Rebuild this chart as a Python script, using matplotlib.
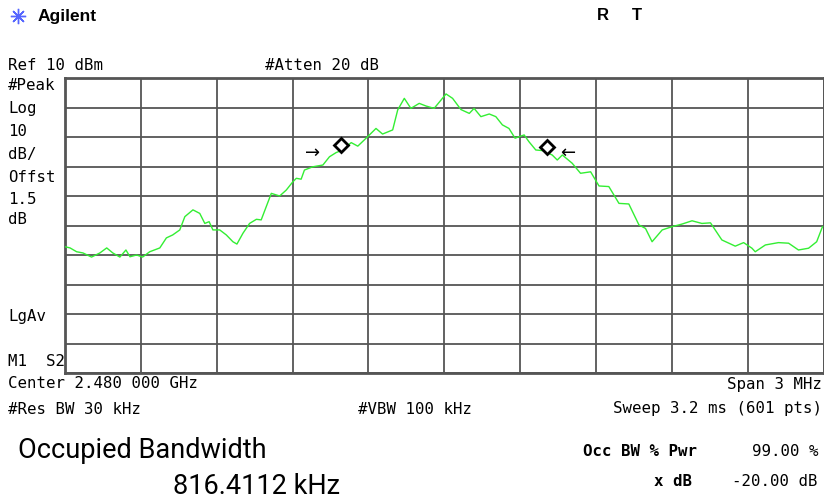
import numpy as np
import matplotlib.pyplot as plt
from matplotlib.lines import Line2D

# trace: offset from 2.480 GHz centre (MHz), level (dBm)
freq_mhz = [-1.500, -1.480, -1.454, -1.429, -1.395, -1.362, -1.335, -1.311, -1.283, -1.259,
            -1.243, -1.217, -1.193, -1.165, -1.125, -1.099, -1.074, -1.046, -1.026, -0.994,
            -0.967, -0.947, -0.930, -0.915, -0.888, -0.862, -0.836, -0.820, -0.796, -0.770,
            -0.743, -0.724, -0.704, -0.684, -0.651, -0.625, -0.599, -0.585, -0.566, -0.553,
            -0.520, -0.480, -0.454, -0.428, -0.402, -0.368, -0.342, -0.309, -0.270, -0.244,
            -0.204, -0.184, -0.158, -0.132, -0.099, -0.072, -0.040, -0.013, 0.007, 0.033,
            0.066, 0.099, 0.118, 0.145, 0.178, 0.204, 0.230, 0.256, 0.280, 0.316,
            0.335, 0.362, 0.388, 0.427, 0.447, 0.467, 0.506, 0.539, 0.579, 0.612,
            0.651, 0.691, 0.730, 0.770, 0.796, 0.822, 0.862, 0.901, 0.941, 0.980,
            1.019, 1.053, 1.098, 1.151, 1.184, 1.217, 1.230, 1.270, 1.322, 1.362,
            1.401, 1.441, 1.473, 1.496]
level_dbm = [-47.2, -47.6, -48.9, -49.3, -50.7, -49.3, -47.6, -49.3, -50.7, -48.3,
             -50.6, -50.0, -50.7, -48.9, -47.6, -44.2, -43.2, -41.5, -37.0, -34.7,
             -35.9, -39.3, -38.7, -41.5, -41.5, -43.2, -45.5, -46.3, -42.6, -39.3,
             -37.9, -38.1, -33.6, -29.1, -30.0, -28.0, -25.2, -24.0, -24.3, -21.2,
             -20.1, -19.5, -16.7, -15.3, -14.4, -11.9, -13.1, -10.4, -7.1, -9.0,
             -7.6, -0.8, 3.1, -0.3, 1.4, 0.5, -0.3, 2.5, 4.6, 3.1,
             -0.7, -2.0, -0.3, -3.1, -2.2, -3.1, -5.9, -7.1, -10.4, -9.3,
             -11.6, -14.4, -14.6, -16.1, -17.8, -16.1, -18.9, -22.3, -21.8, -26.6,
             -26.8, -32.5, -32.7, -39.8, -41.0, -45.5, -41.5, -40.4, -39.5, -38.4,
             -39.3, -39.1, -44.9, -47.0, -45.8, -47.7, -48.9, -46.6, -45.8, -46.0,
             -48.3, -47.7, -45.5, -40.4]

# occupied bandwidth edges (diamonds) and the arrow markers
obw_edges_mhz = [-0.408, 0.408]
obw_edges_dbm = [-12.7, -13.3]
arrow_mhz = [-0.52, 0.49]
arrow_dbm = [-15.5, -15.3]

W, H = 824, 501
fig = plt.figure(figsize=(W / 100, H / 100), dpi=100)


def px(x, y):
    return x / W, 1 - y / H


ax = fig.add_axes([65 / W, 1 - 373 / H, 758.5 / W, 295 / H])
ax.set_xlim(-1.5, 1.5)
ax.set_ylim(-90, 10)
ax.set_xticks(np.linspace(-1.5, 1.5, 11))
ax.set_yticks(np.linspace(-90, 10, 11))
ax.grid(True, color='#555555', lw=1.3)
ax.tick_params(length=0, labelbottom=False, labelleft=False)
for s in ax.spines.values():
    s.set_color('#555555')
    s.set_linewidth(2)

ax.plot(freq_mhz, level_dbm, color='#33ee33', lw=1.0, zorder=3)
ax.plot(obw_edges_mhz, obw_edges_dbm, 'D', ms=7, mfc='white', mec='black', mew=2, zorder=4)
ax.text(arrow_mhz[0], arrow_dbm[0], '→', ha='center', va='center', fontsize=13, zorder=4)
ax.text(arrow_mhz[1], arrow_dbm[1], '←', ha='center', va='center', fontsize=13, zorder=4)

mono = 'DejaVu Sans Mono'
fs = 11.3

# header
fig.add_artist(Line2D([18 / W], [1 - 16 / H], marker=(8, 2, 0), ms=11, color='#5566ff', mew=1))
fig.text(*px(38, 16), 'Agilent', fontsize=12.5, fontweight='bold', va='center', family='Liberation Sans')
fig.text(*px(597, 16), 'R', fontsize=12, fontweight='bold', va='center', family='Liberation Sans')
fig.text(*px(632, 16), 'T', fontsize=12, fontweight='bold', va='center', family='Liberation Sans')

fig.text(*px(8, 65), 'Ref 10 dBm', fontsize=fs, va='center', family=mono)
fig.text(*px(265, 65), '#Atten 20 dB', fontsize=fs, va='center', family=mono)

side = [('#Peak', 86), ('Log', 108), ('10', 131), ('dB/', 154), ('Offst', 177),
        ('1.5', 199), ('dB', 219), ('LgAv', 317), ('M1  S2', 361)]
for txt, yy in side:
    fig.text(*px(8, yy), txt, fontsize=fs, va='center', family=mono)

# footer
fig.text(*px(8, 384), 'Center 2.480 000 GHz', fontsize=fs, va='center', family=mono)
fig.text(*px(822, 384), 'Span 3 MHz', fontsize=fs, va='center', ha='right', family=mono)
fig.text(*px(8, 409), '#Res BW 30 kHz', fontsize=fs, va='center', family=mono)
fig.text(*px(358, 409), '#VBW 100 kHz', fontsize=fs, va='center', family=mono)
fig.text(*px(822, 409), 'Sweep 3.2 ms (601 pts)', fontsize=fs, va='center', ha='right', family=mono)

big = ['Roboto', 'DejaVu Sans']
fig.text(*px(18, 450), 'Occupied Bandwidth', fontsize=19.5, va='center', family=big)
fig.text(*px(173, 486), '816.4112 kHz', fontsize=19.5, va='center', family=big)

fig.text(*px(583, 452), 'Occ BW % Pwr', fontsize=fs, va='center', fontweight='bold', family=mono)
fig.text(*px(818, 452), '99.00 %', fontsize=fs, va='center', ha='right', family=mono)
fig.text(*px(692, 481), 'x dB', fontsize=fs, va='center', ha='right', fontweight='bold', family=mono)
fig.text(*px(818, 481), '-20.00 dB', fontsize=fs, va='center', ha='right', family=mono)

fig.savefig('out.png', dpi=100)
